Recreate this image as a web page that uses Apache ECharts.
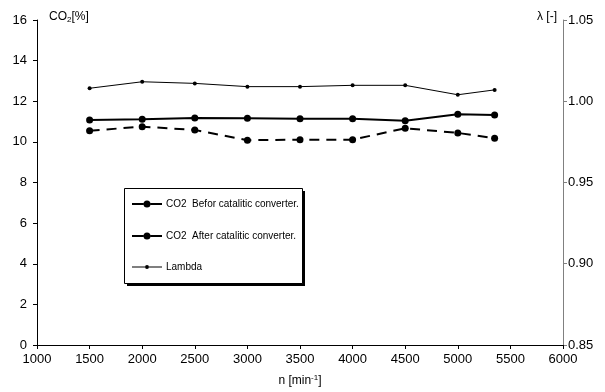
<!DOCTYPE html>
<html>
<head>
<meta charset="utf-8">
<script src="https://cdn.jsdelivr.net/npm/echarts@6/dist/echarts.min.js"></script>
<style>
html,body{margin:0;padding:0;background:#fff;}
#c{width:605px;height:392px;}
</style>
</head>
<body>
<div id="c"></div>
<script>
var rpm = [1500, 2000, 2500, 3000, 3500, 4000, 4500, 5000, 5350];
var co2Before = [11.08, 11.11, 11.18, 11.16, 11.14, 11.14, 11.04, 11.36, 11.32];
var co2After = [10.55, 10.75, 10.59, 10.08, 10.11, 10.11, 10.67, 10.44, 10.18];
var lambda = [1.008, 1.012, 1.011, 1.009, 1.009, 1.0098, 1.0098, 1.004, 1.007];
var seriesNames = ['CO2  Befor catalitic converter.', 'CO2  After catalitic converter.', 'Lambda'];

function pairs(xs, ys) { return xs.map(function (x, i) { return [x, ys[i]]; }); }

var FONT = "'Liberation Sans', Arial, sans-serif";
var iconBig = 'path://M0,2.5H11.5V4.5H0Z M18.5,2.5H30V4.5H18.5Z M11.5,3.5A3.5,3.5,0,1,1,18.5,3.5A3.5,3.5,0,1,1,11.5,3.5Z';
var iconSmall = 'path://M0,1.5H13V2.5H0Z M17,1.5H30V2.5H17Z M13,2A2,2,0,1,1,17,2A2,2,0,1,1,13,2Z';
var legendIcons = [iconBig, iconBig, iconSmall];
var legendTops = [199, 231, 262];

function makeLegend(i) {
  return {
    orient: 'vertical', left: 132, top: legendTops[i], padding: 0,
    itemWidth: 30, itemHeight: 14, z: 10,
    textStyle: {fontFamily: FONT, fontSize: 10, color: '#000', padding: [0, 0, 0, -1]},
    data: [{name: seriesNames[i], icon: legendIcons[i]}]
  };
}

var chart = echarts.init(document.getElementById('c'), null, {renderer: 'canvas'});
chart.setOption({
  animation: false,
  backgroundColor: '#fff',
  textStyle: {fontFamily: FONT, color: '#000'},
  grid: {left: 37, right: 42, top: 20, bottom: 47, containLabel: false},
  legend: [makeLegend(0), makeLegend(1), makeLegend(2)],
  xAxis: {
    type: 'value', min: 1000, max: 6000, interval: 500,
    name: 'n [min{sup|-1}]', nameLocation: 'middle', nameGap: 29,
    nameTextStyle: {fontSize: 12, color: '#000', fontFamily: FONT,
      rich: {sup: {fontSize: 8, verticalAlign: 'top', padding: [0, 0, 6, 0], color: '#000', fontFamily: FONT}}},
    axisLine: {onZero: false, lineStyle: {color: '#000', width: 1}},
    axisTick: {show: true, inside: false, length: 4, lineStyle: {color: '#000'}},
    axisLabel: {fontSize: 13, color: '#000', margin: 8, fontFamily: FONT,
      formatter: function (v) { return String(v); }},
    splitLine: {show: false}
  },
  yAxis: [{
    type: 'value', min: 0, max: 16, interval: 2,
    axisLine: {show: true, lineStyle: {color: '#000', width: 1}},
    axisTick: {show: true, inside: false, length: 4, lineStyle: {color: '#000'}},
    axisLabel: {fontSize: 13, color: '#000', margin: 10, fontFamily: FONT},
    splitLine: {show: false}
  }, {
    type: 'value', min: 0.85, max: 1.05, interval: 0.05, position: 'right',
    axisLine: {show: true, lineStyle: {color: '#808080', width: 1}},
    axisTick: {show: true, inside: false, length: 4, lineStyle: {color: '#808080'}},
    axisLabel: {fontSize: 13, color: '#000', margin: 5, fontFamily: FONT,
      formatter: function (v) { return v.toFixed(2); }},
    splitLine: {show: false}
  }],
  graphic: [
    {type: 'rect', z: 8, silent: true,
      shape: {x: 127, y: 191, width: 178, height: 95},
      style: {fill: '#000', stroke: null}},
    {type: 'rect', z: 9, silent: true,
      shape: {x: 124.5, y: 188.5, width: 178, height: 95},
      style: {fill: '#fff', stroke: '#000', lineWidth: 1}},
    {type: 'text', left: 49, top: 11, z: 100,
      style: {text: '{a|CO}{s|2}{a|[%]}', fill: '#000',
        rich: {a: {fontSize: 12, fontFamily: FONT, fill: '#000'},
               s: {fontSize: 8, fontFamily: FONT, fill: '#000', verticalAlign: 'bottom', padding: [5, 0, 0, 0]}}}},
    {type: 'text', right: 48, top: 11, z: 100,
      style: {text: 'λ [-]', fontSize: 12, fontFamily: FONT, fill: '#000'}}
  ],
  series: [{
    name: seriesNames[0], type: 'line', yAxisIndex: 0,
    data: pairs(rpm, co2Before),
    symbol: 'circle', symbolSize: 7,
    itemStyle: {color: '#000'},
    lineStyle: {color: '#000', width: 2, type: 'solid'}
  }, {
    name: seriesNames[1], type: 'line', yAxisIndex: 0,
    data: pairs(rpm, co2After),
    symbol: 'circle', symbolSize: 7,
    itemStyle: {color: '#000'},
    lineStyle: {color: '#000', width: 2, type: [10, 7]}
  }, {
    name: seriesNames[2], type: 'line', yAxisIndex: 1,
    data: pairs(rpm, lambda),
    symbol: 'circle', symbolSize: 4,
    itemStyle: {color: '#000'},
    lineStyle: {color: '#000', width: 1, type: 'solid'}
  }]
});
</script>
</body>
</html>
